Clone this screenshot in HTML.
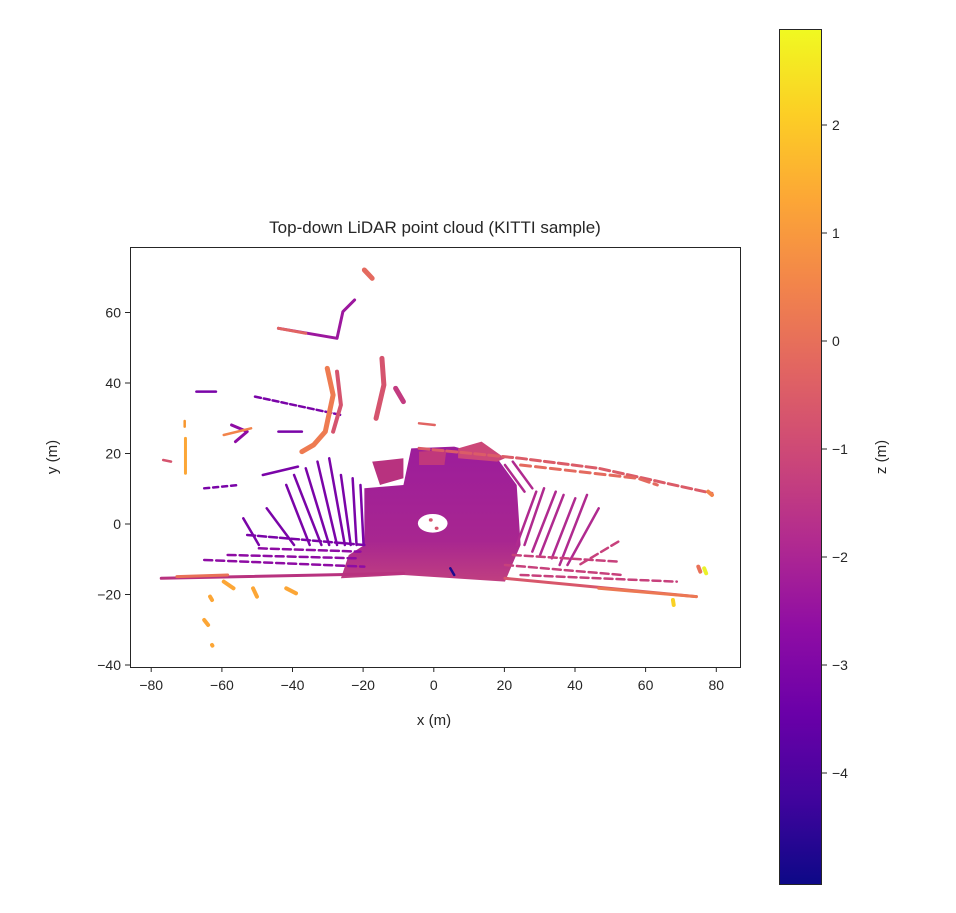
<!DOCTYPE html>
<html><head><meta charset="utf-8"><style>
body{margin:0;background:#fff;width:956px;height:908px;overflow:hidden}
text{font-family:"Liberation Sans","DejaVu Sans",sans-serif;fill:#262626}
</style></head><body>
<svg width="956" height="908" viewBox="0 0 956 908" xmlns="http://www.w3.org/2000/svg">
<defs>
<linearGradient id="pl" x1="0" y1="1" x2="0" y2="0">
<stop offset="0" stop-color="#0d0887"/><stop offset=".1" stop-color="#41049d"/><stop offset=".2" stop-color="#6a00a8"/><stop offset=".3" stop-color="#8f0da4"/><stop offset=".4" stop-color="#b12a90"/><stop offset=".5" stop-color="#cc4778"/><stop offset=".6" stop-color="#e16462"/><stop offset=".7" stop-color="#f2844b"/><stop offset=".8" stop-color="#fca636"/><stop offset=".9" stop-color="#fcce25"/><stop offset="1" stop-color="#f0f921"/>
</linearGradient>
<linearGradient id="dense" x1="0" y1="0" x2="0" y2="1">
<stop offset="0" stop-color="#9c1d9b"/><stop offset=".7" stop-color="#a82690"/><stop offset="1" stop-color="#c03f80"/>
</linearGradient>
</defs>
<text x="435" y="233" font-size="17" text-anchor="middle">Top-down LiDAR point cloud (KITTI sample)</text>
<g transform="translate(130,245) scale(0.3906,0.3333)" stroke-linecap="round" stroke-linejoin="round" fill="none">
<path d="M600,730 L700,720 L720,610 L830,605 L940,640 L990,720 L1000,900 L960,1010 L700,990 L540,1000 L560,930 L600,900 Z" fill="url(#dense)" stroke="none"/>
<ellipse cx="775" cy="835" rx="38" ry="28" fill="#fff"/>
<circle cx="770" cy="825" r="5" fill="#d5546e"/><circle cx="785" cy="850" r="5" fill="#d5546e"/>
<path d="M620,650 L700,640 L700,700 L640,720 Z" fill="#b8327f"/>
<path d="M740,620 L810,615 L805,660 L740,660Z" fill="#c0387c"/>
<path d="M840,610 L900,590 L960,640 L940,650 L840,640Z" fill="#cc4778"/>
<g stroke-width="2.5">
<g stroke="#7a04a8">
<path d="M290,820 L330,900" vector-effect="non-scaling-stroke"/>
<path d="M350,790 L420,900" vector-effect="non-scaling-stroke"/>
<path d="M400,720 L460,900" vector-effect="non-scaling-stroke"/>
<path d="M420,690 L490,900" vector-effect="non-scaling-stroke"/>
<path d="M450,670 L510,900" vector-effect="non-scaling-stroke"/>
<path d="M480,650 L530,900" vector-effect="non-scaling-stroke"/>
<path d="M510,640 L550,900" vector-effect="non-scaling-stroke"/>
<path d="M540,690 L565,900" vector-effect="non-scaling-stroke"/>
<path d="M570,700 L580,900" vector-effect="non-scaling-stroke"/>
<path d="M590,720 L598,900" vector-effect="non-scaling-stroke"/>
<path d="M340,690 L430,665" vector-effect="non-scaling-stroke"/>
<path d="M320,455 L540,510" stroke-dasharray="6 3" vector-effect="non-scaling-stroke"/>
<path d="M170,440 L220,440" vector-effect="non-scaling-stroke"/>
<path d="M380,560 L440,560" vector-effect="non-scaling-stroke"/>
<path d="M190,730 L280,720" stroke-dasharray="5 4" vector-effect="non-scaling-stroke"/>
<path d="M300,870 L600,900" stroke-dasharray="8 3" vector-effect="non-scaling-stroke"/>
</g>
<g stroke="#8e0ca4" stroke-dasharray="8 4">
<path d="M190,945 L600,965" vector-effect="non-scaling-stroke"/>
<path d="M250,930 L580,940" vector-effect="non-scaling-stroke"/>
<path d="M330,910 L590,920" vector-effect="non-scaling-stroke"/>
</g>
<g stroke="#b02a8f">
<path d="M1040,740 L990,900" vector-effect="non-scaling-stroke"/>
<path d="M1060,730 L1010,900" vector-effect="non-scaling-stroke"/>
<path d="M1090,740 L1030,920" vector-effect="non-scaling-stroke"/>
<path d="M1110,750 L1050,930" vector-effect="non-scaling-stroke"/>
<path d="M1140,760 L1080,940" vector-effect="non-scaling-stroke"/>
<path d="M1170,750 L1100,960" vector-effect="non-scaling-stroke"/>
<path d="M1200,790 L1120,960" vector-effect="non-scaling-stroke"/>
<path d="M960,660 L1010,740" vector-effect="non-scaling-stroke"/>
<path d="M980,650 L1030,730" vector-effect="non-scaling-stroke"/>
</g>
<g stroke="#c7417c" stroke-dasharray="8 4">
<path d="M960,960 L1260,990" vector-effect="non-scaling-stroke"/>
<path d="M980,930 L1250,950" vector-effect="non-scaling-stroke"/>
<path d="M1000,990 L1400,1010" vector-effect="non-scaling-stroke"/>
<path d="M1250,890 L1150,960" vector-effect="non-scaling-stroke"/>
</g>
<path d="M960,1000 L1450,1055" stroke="#d8576b" stroke-width="3" vector-effect="non-scaling-stroke"/>
<path d="M1200,1030 L1450,1055" stroke="#ec7853" stroke-width="3" vector-effect="non-scaling-stroke"/>
<path d="M80,1000 L700,985" stroke="#b8327f" stroke-width="3" vector-effect="non-scaling-stroke"/>
<path d="M120,995 L250,990" stroke="#e97158" stroke-width="3" vector-effect="non-scaling-stroke"/>
<path d="M740,610 L1000,640 L1200,670 L1490,745" stroke="#db5c68" stroke-width="3" stroke-dasharray="10 4" vector-effect="non-scaling-stroke"/>
<path d="M1000,660 L1300,700 L1350,720" stroke="#e46a5f" stroke-width="3" stroke-dasharray="10 5" vector-effect="non-scaling-stroke"/>
<path d="M740,535 L780,540" stroke="#e16462" vector-effect="non-scaling-stroke"/>
<path d="M380,250 L530,280 L545,200 L575,165" stroke="#9c179e" stroke-width="3" vector-effect="non-scaling-stroke"/>
<path d="M380,250 L450,265" stroke="#e16462" stroke-width="3" vector-effect="non-scaling-stroke"/>
<path d="M505,370 L520,450 L500,560 L470,600 L440,620" stroke="#ee7b51" stroke-width="5" vector-effect="non-scaling-stroke"/>
<path d="M530,380 L540,480 L520,560" stroke="#d5546e" stroke-width="4" vector-effect="non-scaling-stroke"/>
<path d="M645,340 L650,420 L630,520" stroke="#d5546e" stroke-width="5" vector-effect="non-scaling-stroke"/>
<path d="M680,430 L700,470" stroke="#c23b80" stroke-width="5" vector-effect="non-scaling-stroke"/>
<path d="M600,75 L620,100" stroke="#e46a5f" stroke-width="5" vector-effect="non-scaling-stroke"/>
<path d="M142,580 L142,685" stroke="#fca636" stroke-width="3" vector-effect="non-scaling-stroke"/>
<path d="M140,528 L140,545" stroke="#f7962e" vector-effect="non-scaling-stroke"/>
<path d="M260,540 L300,560 L270,590" stroke="#8e0ca4" stroke-width="3" vector-effect="non-scaling-stroke"/>
<path d="M240,570 L310,550" stroke="#f2844b" vector-effect="non-scaling-stroke"/>
<path d="M85,645 L105,650" stroke="#d5546e" vector-effect="non-scaling-stroke"/>
<g stroke="#fca636" stroke-width="4">
<path d="M240,1010 L265,1030" vector-effect="non-scaling-stroke"/>
<path d="M315,1030 L325,1055" vector-effect="non-scaling-stroke"/>
<path d="M400,1030 L425,1045" vector-effect="non-scaling-stroke"/>
<path d="M205,1055 L210,1065" vector-effect="non-scaling-stroke"/>
<path d="M190,1125 L200,1140" vector-effect="non-scaling-stroke"/>
<path d="M210,1200 L211,1202" vector-effect="non-scaling-stroke"/>
</g>
<path d="M1470,970 L1475,985" stroke="#eaf22a" stroke-width="4" vector-effect="non-scaling-stroke"/>
<path d="M1390,1065 L1392,1080" stroke="#f9d125" stroke-width="4" vector-effect="non-scaling-stroke"/>
<path d="M1455,965 L1460,980" stroke="#e97158" stroke-width="4" vector-effect="non-scaling-stroke"/>
<path d="M1480,740 L1490,750" stroke="#f2844b" stroke-width="4" vector-effect="non-scaling-stroke"/>
<path d="M820,970 L830,990" stroke="#1c0a8f" vector-effect="non-scaling-stroke"/>
</g>
</g>
<rect x="130.5" y="247.5" width="610" height="420" fill="none" stroke="#262626" stroke-width="1"/>
<g stroke="#262626">
<line x1="151.2" y1="667" x2="151.2" y2="672"/><line x1="221.9" y1="667" x2="221.9" y2="672"/><line x1="292.5" y1="667" x2="292.5" y2="672"/><line x1="363.1" y1="667" x2="363.1" y2="672"/><line x1="433.8" y1="667" x2="433.8" y2="672"/><line x1="504.4" y1="667" x2="504.4" y2="672"/><line x1="575" y1="667" x2="575" y2="672"/><line x1="645.6" y1="667" x2="645.6" y2="672"/><line x1="716.3" y1="667" x2="716.3" y2="672"/>
<line x1="125" y1="665" x2="130" y2="665"/><line x1="125" y1="594.5" x2="130" y2="594.5"/><line x1="125" y1="524" x2="130" y2="524"/><line x1="125" y1="453.5" x2="130" y2="453.5"/><line x1="125" y1="383" x2="130" y2="383"/><line x1="125" y1="312.5" x2="130" y2="312.5"/>
</g>
<g font-size="14" text-anchor="middle">
<text x="151.2" y="690">−80</text><text x="221.9" y="690">−60</text><text x="292.5" y="690">−40</text><text x="363.1" y="690">−20</text><text x="433.8" y="690">0</text><text x="504.4" y="690">20</text><text x="575" y="690">40</text><text x="645.6" y="690">60</text><text x="716.3" y="690">80</text>
</g>
<g font-size="14" text-anchor="end">
<text x="121" y="670">−40</text><text x="121" y="599.5">−20</text><text x="121" y="529">0</text><text x="121" y="458.5">20</text><text x="121" y="388">40</text><text x="121" y="317.5">60</text>
</g>
<text x="434" y="725" font-size="15" text-anchor="middle">x (m)</text>
<text transform="translate(57,457) rotate(-90)" font-size="15" text-anchor="middle">y (m)</text>
<rect x="779.5" y="29.5" width="42" height="855" fill="url(#pl)" stroke="#262626" stroke-width="1"/>
<g stroke="#262626">
<line x1="822" y1="125" x2="827" y2="125"/><line x1="822" y1="233" x2="827" y2="233"/><line x1="822" y1="341" x2="827" y2="341"/><line x1="822" y1="449" x2="827" y2="449"/><line x1="822" y1="557" x2="827" y2="557"/><line x1="822" y1="665" x2="827" y2="665"/><line x1="822" y1="773" x2="827" y2="773"/>
</g>
<g font-size="14">
<text x="832" y="130">2</text><text x="832" y="238">1</text><text x="832" y="346">0</text><text x="832" y="454">−1</text><text x="832" y="562">−2</text><text x="832" y="670">−3</text><text x="832" y="778">−4</text>
</g>
<text transform="translate(886,457) rotate(-90)" font-size="15" text-anchor="middle">z (m)</text>
</svg>
</body></html>
